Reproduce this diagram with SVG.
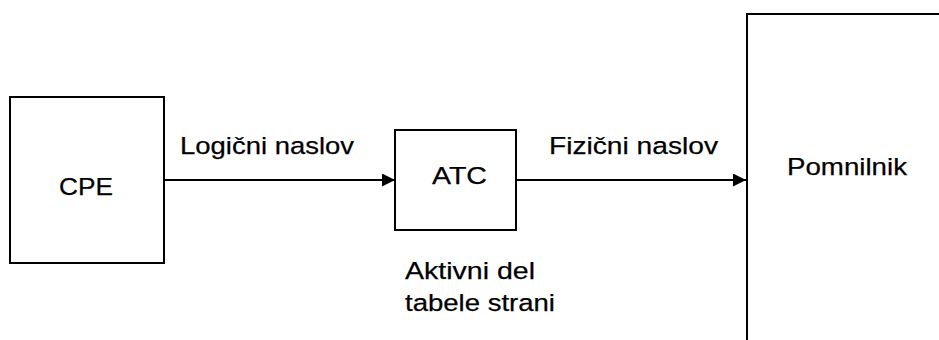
<svg xmlns="http://www.w3.org/2000/svg" width="939" height="340" viewBox="0 0 939 340">
  <style>
    .box { fill: none; stroke: #000; stroke-width: 2; }
    .wire { fill: none; stroke: #000; stroke-width: 2; }
    .lbl { font-family: "Liberation Sans", Arial, sans-serif; font-size: 24.5px; fill: #000; stroke: #000; stroke-width: 0.25; }
  </style>
  <defs>
    <marker id="arrow" markerUnits="userSpaceOnUse" markerWidth="14" markerHeight="14" refX="13" refY="6.5" orient="auto">
      <path d="M0,0 L13,6.5 L0,13 Z" fill="#000"/>
    </marker>
  </defs>
  <rect width="939" height="340" fill="#fff"/>

  <g id="cpe">
    <rect class="box" x="10" y="97" width="154" height="166"/>
    <text class="lbl" x="59" y="195" textLength="54" lengthAdjust="spacingAndGlyphs">CPE</text>
  </g>

  <g id="atc">
    <rect class="box" x="395" y="130" width="121" height="100"/>
    <text class="lbl" x="432" y="184" textLength="55" lengthAdjust="spacingAndGlyphs">ATC</text>
    <text class="lbl" x="405" y="279" textLength="130" lengthAdjust="spacingAndGlyphs">Aktivni del</text>
    <text class="lbl" x="405" y="311" textLength="150" lengthAdjust="spacingAndGlyphs">tabele strani</text>
  </g>

  <g id="pomnilnik">
    <path class="box" d="M747,340 V14 H940"/>
    <text class="lbl" x="787" y="175" textLength="120" lengthAdjust="spacingAndGlyphs">Pomnilnik</text>
  </g>

  <g id="connectors">
    <line class="wire" x1="164" y1="180" x2="395" y2="180" marker-end="url(#arrow)"/>
    <text class="lbl" x="180" y="154" textLength="174" lengthAdjust="spacingAndGlyphs">Logični naslov</text>
    <line class="wire" x1="516" y1="180" x2="746" y2="180" marker-end="url(#arrow)"/>
    <text class="lbl" x="549" y="154" textLength="169" lengthAdjust="spacingAndGlyphs">Fizični naslov</text>
  </g>
</svg>
